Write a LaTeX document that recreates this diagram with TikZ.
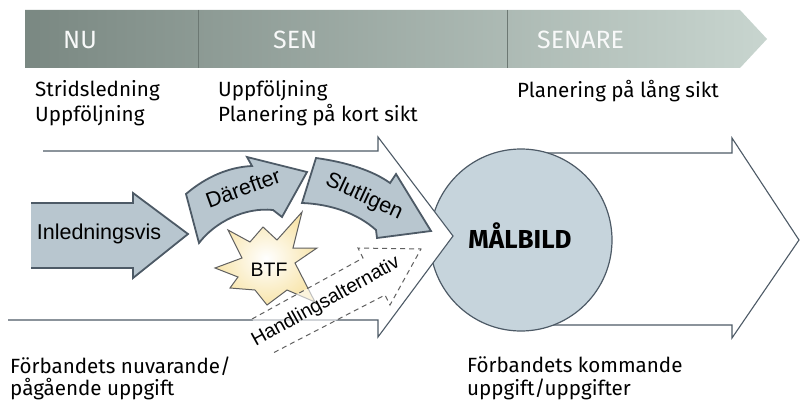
\documentclass[tikz,border=0pt]{standalone}
\usepackage{fontspec}
\setmainfont{Fira Sans}
\newfontfamily\arrowfont{Liberation Sans}

\definecolor{barleft}{RGB}{122,136,130}
\definecolor{barright}{RGB}{200,213,207}
\definecolor{bardiv}{RGB}{108,120,115}
\definecolor{stepfill}{RGB}{184,198,207}
\definecolor{goalfill}{RGB}{198,212,220}
\definecolor{edgecol}{RGB}{77,90,102}
\definecolor{btffill}{RGB}{248,229,172}

\begin{document}
\begin{tikzpicture}[
        x=1pt, y=-1pt,
        phase/.style={anchor=west, inner sep=0pt, text=white!95!barleft, font=\fontsize{25}{28}\selectfont},
        note/.style={anchor=base west, inner sep=0pt, font=\fontsize{20.6}{24}\selectfont},
        bigarrow/.style={draw=edgecol, fill=white, line width=1.1pt},
        stepshape/.style={draw=edgecol, fill=stepfill, line width=1.8pt},
        steptext/.style={font=\arrowfont\fontsize{21.5}{24}\selectfont},
        goal/.style={circle, draw=edgecol, fill=goalfill, line width=1.2pt, minimum size=182pt, inner sep=0pt}
    ]
        \useasboundingbox (0,0) rectangle (800,401);

        % Time bar
        \shade[left color=barleft, right color=barright] (25,10) -- (740,10) -- (767,39) -- (740,68) -- (25,68) -- cycle;
        \draw[bardiv, line width=0.8pt] (198,10) -- (198,68);
        \draw[bardiv, line width=0.8pt] (507,10) -- (507,68);
        \node[phase] (nu) at (63,40) {NU};
        \node[phase] (sen) at (273,40) {SEN};
        \node[phase] (senare) at (537,40) {SENARE};

        % Phase notes
        \node[note] (nu1) at (35,97) {Stridsledning};
        \node[note] (nu2) at (35,122) {Uppföljning};
        \node[note] (sen1) at (218,97) {Uppföljning};
        \node[note] (sen2) at (218,122) {Planering på kort sikt};
        \node[note] (senare1) at (517,98) {Planering på lång sikt};

        % Future task
        \filldraw[bigarrow] (521,325) -- (732,325) -- (732,338) -- (799,240) -- (732,138) -- (732,153) -- (521,153);
        \node[goal] (goalcircle) at (521,240) {};
        \node[font=\fontsize{26}{28}\selectfont\bfseries] (malbild) at (520,236) {MÅLBILD};

        % Current task
        \filldraw[bigarrow] (43,151) -- (378,151) -- (378,137) -- (453,236) -- (378,337) -- (378,320) -- (8,320);

        % Steps
        \filldraw[stepshape] (31,203) -- (133,203) -- (133,193) -- (188,234) -- (133,278) -- (133,268) -- (31,268);
        \filldraw[stepshape] (186,194) .. controls (207,176) and (230,167) .. (252,166) -- (247,157) -- (307,172) -- (282,217) -- (273,210) .. controls (245,207) and (215,222) .. (199,243) -- cycle;
        \filldraw[stepshape] (316,158) .. controls (345,162) and (372,170) .. (390,183) -- (396,174) -- (431,231) -- (377,238) -- (376,230) .. controls (357,213) and (330,204) .. (302,203) -- cycle;
        \node[steptext] (first) at (99,234) {Inledningsvis};
        \node[steptext, rotate=20] (then) at (243,188) {Därefter};
        \node[steptext, rotate=-25] (finally) at (364,197) {Slutligen};

        % BTF
        \shadedraw[inner color=white, outer color=btffill, draw=gray!75!black, line width=1pt]
            (215,268) -- (242,258) -- (228,230) -- (250,242) -- (263,227) -- (277,240) -- (302,212) -- (293,248)
            -- (317,248) -- (295,263) -- (315,302) -- (287,290) -- (267,305) -- (255,290) -- (230,288) -- (238,277) -- cycle;
        \node[font=\arrowfont\fontsize{19.5}{22}\selectfont] (btf) at (269,270) {BTF};

        % Alternative
        \path[fill=white, fill opacity=0.6] (252,319) -- (363,258) -- (358,248) -- (421,249) -- (390,305) -- (385,295) -- (273,353) -- cycle;
        \draw[gray!75!black, line width=1pt, dash pattern=on 5pt off 4pt] (252,319) -- (363,258) -- (358,248) -- (421,249) -- (390,305) -- (385,295) -- (273,353);
        \node[font=\arrowfont\fontsize{19.5}{22}\selectfont, rotate=29] (alt) at (326,302) {Handlingsalternativ};

        % Task notes
        \node[note] (now1) at (10,373) {Förbandets nuvarande/};
        \node[note] (now2) at (10,395) {pågående uppgift};
        \node[note] (next1) at (467,372) {Förbandets kommande};
        \node[note] (next2) at (467,395) {uppgift/uppgifter};
    \end{tikzpicture}
\end{document}
